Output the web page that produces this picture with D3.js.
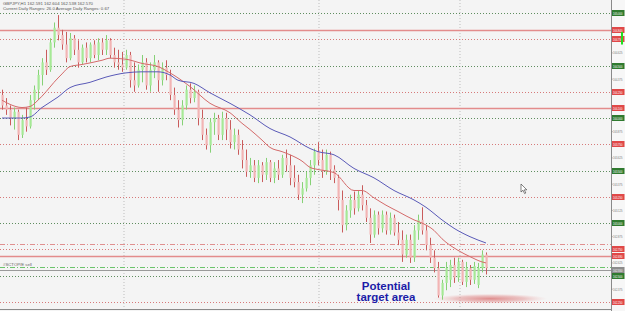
<!DOCTYPE html>
<html><head><meta charset="utf-8">
<script src="https://cdn.jsdelivr.net/npm/d3@7"></script>
<style>
html,body{margin:0;padding:0;background:#f4f4f4;overflow:hidden;}
svg{display:block;}
</style></head><body>
<script>
// ---------- DATA ----------
const barOpen  = [164.22,164.12,164.08,164.00,164.06,163.84,163.98,163.92,164.17,164.27,164.41,164.53,164.46,164.72,164.86,164.79,164.70,164.57,164.76,164.65,
164.53,164.67,164.57,164.70,164.60,164.72,164.65,164.74,164.60,164.53,164.51,164.48,164.60,164.36,164.31,164.46,164.53,164.31,164.46,164.53,
164.36,164.48,164.41,164.22,164.08,163.98,164.12,164.27,164.19,164.25,164.00,163.84,163.74,163.96,164.00,163.84,164.00,163.89,163.77,163.84,
163.70,163.60,163.49,163.55,163.43,163.55,163.46,163.58,163.43,163.52,163.46,163.62,163.55,163.43,163.39,163.27,163.33,163.43,163.55,163.68,
163.60,163.49,163.65,163.51,163.43,163.22,162.98,163.12,163.22,163.14,163.27,163.17,163.05,162.89,163.08,162.95,163.08,162.93,163.05,162.91,
162.84,162.70,162.84,162.67,162.93,163.03,162.93,162.79,162.67,162.57,162.31,162.43,162.46,162.60,162.48,162.63,162.44,162.57,162.46,162.41,
162.57,162.70];
const barHigh  = [164.27,164.19,164.12,164.10,164.08,164.03,164.10,164.22,164.31,164.46,164.57,164.65,164.76,164.91,164.98,164.84,164.82,164.81,164.79,164.74,
164.70,164.72,164.72,164.74,164.76,164.76,164.79,164.76,164.67,164.65,164.63,164.65,164.63,164.53,164.51,164.60,164.57,164.53,164.60,164.55,
164.53,164.55,164.46,164.29,164.17,164.17,164.31,164.33,164.31,164.27,164.08,163.90,164.00,164.05,164.03,164.06,164.05,163.98,163.90,163.89,
163.79,163.70,163.62,163.60,163.60,163.58,163.62,163.60,163.58,163.60,163.65,163.70,163.65,163.55,163.46,163.39,163.49,163.60,163.71,163.77,
163.70,163.70,163.68,163.55,163.46,163.31,163.17,163.27,163.30,163.31,163.36,163.22,163.14,163.12,163.11,163.12,163.11,163.10,163.08,163.01,
162.93,162.89,162.89,162.98,163.08,163.15,162.98,162.86,162.74,162.63,162.46,162.63,162.65,162.67,162.67,162.65,162.63,162.60,162.63,162.62,
162.74,162.72];
const barLow   = [164.08,164.03,163.93,163.89,163.79,163.81,163.87,163.90,164.08,164.17,164.31,164.41,164.44,164.67,164.74,164.65,164.53,164.55,164.60,164.48,
164.51,164.53,164.53,164.57,164.55,164.60,164.60,164.57,164.48,164.46,164.44,164.46,164.29,164.25,164.29,164.34,164.27,164.25,164.38,164.25,
164.31,164.36,164.17,164.03,163.91,163.93,164.08,164.14,164.15,163.93,163.79,163.70,163.67,163.84,163.79,163.79,163.79,163.71,163.70,163.65,
163.52,163.44,163.43,163.39,163.38,163.39,163.41,163.39,163.38,163.41,163.43,163.49,163.36,163.34,163.22,163.19,163.30,163.36,163.46,163.55,
163.43,163.46,163.41,163.38,163.12,162.91,162.93,163.05,163.08,163.11,163.12,163.01,162.81,162.86,162.89,162.91,162.89,162.89,162.88,162.79,
162.63,162.67,162.62,162.63,162.84,162.89,162.74,162.62,162.53,162.29,162.27,162.36,162.39,162.43,162.44,162.41,162.39,162.41,162.42,162.38,
162.53,162.51];
const barClose = [164.12,164.08,164.00,164.06,163.84,163.98,163.92,164.17,164.27,164.41,164.53,164.46,164.72,164.86,164.79,164.70,164.57,164.76,164.65,164.53,
164.67,164.57,164.70,164.60,164.72,164.65,164.74,164.60,164.53,164.51,164.48,164.60,164.36,164.31,164.46,164.53,164.31,164.46,164.53,164.36,
164.48,164.41,164.22,164.08,163.98,164.12,164.27,164.19,164.25,164.00,163.84,163.74,163.96,164.00,163.84,164.00,163.89,163.77,163.84,163.70,
163.60,163.49,163.55,163.43,163.55,163.46,163.58,163.43,163.52,163.46,163.62,163.55,163.43,163.39,163.27,163.33,163.43,163.55,163.68,163.60,
163.49,163.65,163.51,163.43,163.22,162.98,163.12,163.22,163.14,163.27,163.17,163.05,162.89,163.08,162.95,163.08,162.93,163.05,162.91,162.84,
162.70,162.84,162.67,162.93,163.03,162.93,162.79,162.67,162.57,162.31,162.43,162.57,162.60,162.48,162.63,162.44,162.57,162.46,162.59,162.57,
162.70,162.57];

const fastMaIdx = [0,2,5,7,9,11,13,15,17,20,25,27,31,35,39,42,47,52,57,60,62,65,67,70,72,75,77,79,83,88,90,93,96,99,103,105,108,110,114,117,120,121];
const fastMaVal = [164.17,164.13,164.10,164.11,164.17,164.25,164.34,164.42,164.49,164.51,164.55,164.57,164.56,164.52,164.49,164.43,164.30,164.14,164.05,163.95,
163.89,163.79,163.72,163.68,163.65,163.59,163.53,163.51,163.48,163.31,163.31,163.24,163.17,163.11,163.03,163.00,162.93,162.85,162.74,162.68,162.63,162.62];
const slowMaIdx = [0,5,7,10,14,17,22,26,31,35,39,42,44,48,52,57,62,67,72,77,79,83,88,93,98,103,106,110,113,117,121];
const slowMaVal = [164.00,164.00,164.01,164.10,164.20,164.29,164.34,164.39,164.43,164.44,164.44,164.41,164.36,164.33,164.24,164.14,164.03,163.90,163.82,163.71,
163.68,163.65,163.52,163.43,163.31,163.22,163.15,163.03,162.95,162.87,162.81];

const greenLevels    = [165.00,164.50,164.00,163.50,163.00,162.50];
const redDotLevels   = [164.75,164.25,163.75,163.25,162.75,162.25];
const redSolidLevels = [164.84,164.10,162.69];
const redDashDotLevels   = [162.80];
const greenDashDotLevels = [162.58];
const bidLevel = [162.55];
const separatorIdx = [30.5,79.25,114.5];
const axisTicks = [165.125,165.000,164.875,164.750,164.625,164.500,164.375,164.250,164.125,164.000,163.875,163.750,163.625,163.500,163.375,163.250,163.125,163.000,162.875,162.750,162.625,162.500,162.375,162.250];

const titleLine1 = "GBPJPY,H1  162.591 162.604 162.538 162.570";
const titleLine2 = "Current Daily Ranges: 26.0   Average Daily Ranges: 0.67";
const sideNote = "#SCTOP/E sell";
const targetText = ["Potential","target area"];

// ---------- LAYOUT ----------
const W = 625, H = 311, plotR = 611, plotB = 309;
const x = d3.scaleLinear().domain([0, 121]).range([2, 486]);
const y = d3.scaleLinear().domain([165.124, 162.21]).range([0, 306]);
const fmt = d3.format(".3f");
const FONT = "Liberation Sans, Arial, sans-serif";
const SQ = 0.62; // horizontal squeeze of the tiny price labels

const svg = d3.select("body").append("svg").attr("width", W).attr("height", H);
svg.append("rect").attr("width", W).attr("height", H).attr("fill", "#f4f4f4");
svg.append("rect").attr("x", plotR).attr("width", W - plotR).attr("height", H).attr("fill", "#f7f7f7");

const defs = svg.append("defs");
defs.append("clipPath").attr("id","clip").append("rect").attr("width", plotR).attr("height", plotB);
const rg = defs.append("radialGradient").attr("id","glow");
rg.append("stop").attr("offset","0%").attr("stop-color","#d86a6a").attr("stop-opacity",0.75);
rg.append("stop").attr("offset","60%").attr("stop-color","#e08888").attr("stop-opacity",0.45);
rg.append("stop").attr("offset","100%").attr("stop-color","#f0b0b0").attr("stop-opacity",0);

const g = svg.append("g").attr("clip-path","url(#clip)");

// separators
g.selectAll(".sep").data(separatorIdx).join("line")
  .attr("x1", d => x(d)).attr("x2", d => x(d)).attr("y1", 0).attr("y2", plotB)
  .attr("stroke", "#bdbdbd").attr("stroke-dasharray", "1,2").attr("stroke-width", 1);

function hLines(levels, color, dash, width) {
  g.append("g").selectAll("line").data(levels).join("line")
    .attr("x1", 0).attr("x2", plotR)
    .attr("y1", d => Math.round(y(d)) + 0.5).attr("y2", d => Math.round(y(d)) + 0.5)
    .attr("stroke", color).attr("stroke-width", width)
    .attr("stroke-dasharray", dash);
}
hLines(greenLevels, "#5f8d5f", "1,2", 1);
hLines(redDotLevels, "#d67a7a", "1,2", 1);
hLines(redSolidLevels, "#e38c8c", null, 1.3);
hLines(redDashDotLevels, "#e09090", "5,2,1,2", 1);
hLines(greenDashDotLevels, "#6cc46c", "5,2,1,2", 1);
hLines(bidLevel, "#9a9a9a", null, 1);

// target glow
g.append("ellipse").attr("cx", x(110) + 48).attr("cy", y(162.27) - 1)
  .attr("rx", 57).attr("ry", 5).attr("fill", "url(#glow)");

// candles
const idx = d3.range(barOpen.length);
const bars = g.append("g").selectAll("g").data(idx).join("g");
bars.append("line")
  .attr("x1", i => Math.round(x(i)) + 0.5).attr("x2", i => Math.round(x(i)) + 0.5)
  .attr("y1", i => y(barHigh[i])).attr("y2", i => y(barLow[i]))
  .attr("stroke", i => barClose[i] >= barOpen[i] ? "#86d176" : "#c95c5c").attr("stroke-width", 1);
bars.append("rect")
  .attr("x", i => Math.round(x(i)) - 0.5).attr("width", 2.2)
  .attr("y", i => y(Math.max(barOpen[i], barClose[i])))
  .attr("height", i => Math.max(1, Math.abs(y(barOpen[i]) - y(barClose[i]))))
  .attr("fill", i => barClose[i] >= barOpen[i] ? "#a6e996" : "#f2b4b4");

// moving averages
const line = d3.line().curve(d3.curveMonotoneX);
g.append("path").attr("d", line(fastMaIdx.map((i, k) => [x(i), y(fastMaVal[k])])))
  .attr("fill", "none").attr("stroke", "#d46a6a").attr("stroke-width", 1);
g.append("path").attr("d", line(slowMaIdx.map((i, k) => [x(i), y(slowMaVal[k])])))
  .attr("fill", "none").attr("stroke", "#5a5ab8").attr("stroke-width", 1);

// right axis
svg.append("line").attr("x1", plotR + 0.5).attr("x2", plotR + 0.5).attr("y1", 0).attr("y2", H).attr("stroke", "#8a8a8a");
svg.append("line").attr("x1", 0).attr("x2", plotR).attr("y1", plotB + 0.5).attr("y2", plotB + 0.5).attr("stroke", "#8a8a8a");

const boxedLevels = greenLevels.concat(redDotLevels, redSolidLevels, bidLevel);
const freeTicks = axisTicks.filter(t => boxedLevels.every(b => Math.abs(y(b) - y(t)) > 5.5) && y(t) > 2.5);
const ax = svg.append("g").attr("transform", `translate(${plotR},0)`)
  .call(d3.axisRight(y).tickValues(freeTicks).tickFormat(fmt).tickSize(1.5).tickPadding(0.5));
ax.select(".domain").remove();
ax.selectAll("line").attr("stroke", "#888");
ax.selectAll("text").each(function() {
  const t = d3.select(this);
  const tx = +t.attr("x");
  t.attr("x", 0).attr("transform", `translate(${tx},0) scale(${SQ},1)`);
}).attr("font-size", 4.2).attr("fill", "#777").attr("font-family", FONT);

function boxes(levels, color) {
  const b = svg.append("g").selectAll("g").data(levels).join("g")
    .attr("transform", d => `translate(${plotR + 1},${Math.round(y(d))})`);
  b.append("rect").attr("x", 0).attr("y", -3).attr("width", 12.5).attr("height", 6).attr("fill", color);
  b.append("text").attr("transform", `translate(1,1.5) scale(${SQ},1)`).text(d => fmt(d))
    .attr("font-size", 4.2).attr("fill", "#fff").attr("font-family", FONT);
}
boxes(greenLevels, "#2f7a2f");
boxes(redDotLevels.concat(redSolidLevels), "#e04848");
boxes(bidLevel, "#8c8c8c");

// green spread bar at right edge
svg.append("rect").attr("x", 621).attr("y", y(164.82)).attr("width", 2).attr("height", y(164.70) - y(164.82)).attr("fill", "#22dd22");

// header texts
const hdr = svg.append("g").attr("font-family", FONT).attr("fill", "#555").attr("font-size", 4.3);
hdr.append("text").attr("x", 3).attr("y", 5).text(titleLine1);
hdr.append("text").attr("x", 3).attr("y", 10).text(titleLine2);
svg.append("text").attr("x", 3).attr("y", y(greenDashDotLevels[0]) - 1.5).text(sideNote)
  .attr("font-family", FONT).attr("font-size", 4.3).attr("fill", "#666");

// annotation
const ann = svg.append("text").attr("text-anchor", "middle")
  .attr("font-family", FONT).attr("font-weight", "bold")
  .attr("font-size", 11.5).attr("fill", "#1c1ca8");
targetText.forEach((t, k) => ann.append("tspan").attr("x", 386).attr("y", 290 + k * 11).text(t));

// mouse cursor
svg.append("path").attr("transform", "translate(521,184)")
  .attr("d", "M0,0 L0,8 L2,6.2 L3.6,9.6 L4.8,9 L3.3,5.8 L5.8,5.8 Z")
  .attr("fill", "#fff").attr("stroke", "#333").attr("stroke-width", 0.6);
</script>
</body></html>
